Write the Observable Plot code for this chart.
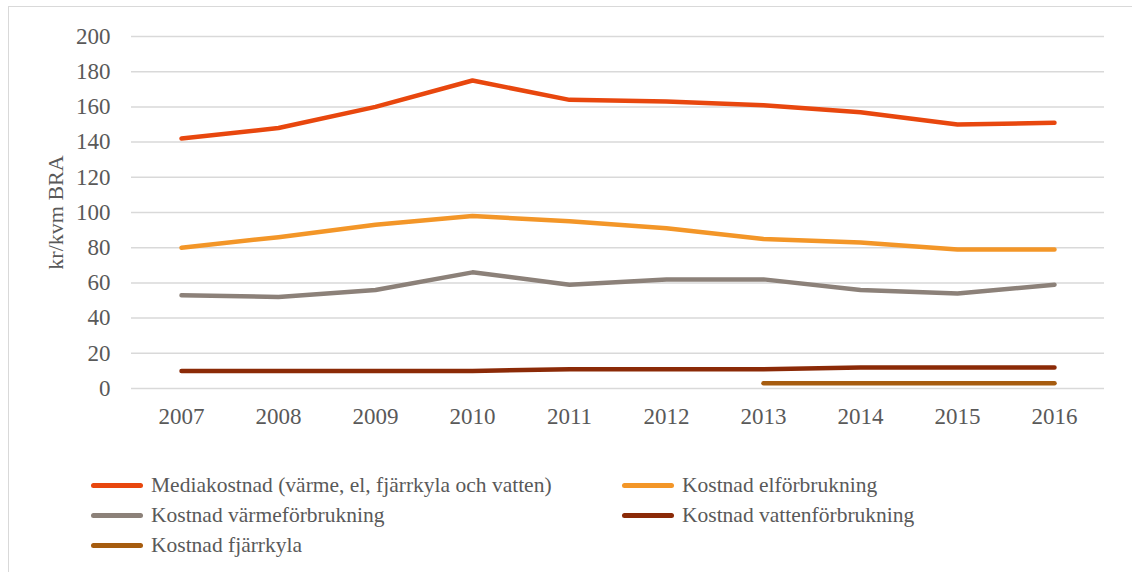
<!DOCTYPE html>
<html><head><meta charset="utf-8">
<script src="https://cdn.jsdelivr.net/npm/d3@7"></script>
<script src="https://cdn.jsdelivr.net/npm/@observablehq/plot@0.6"></script>
<style>
body{margin:0;background:#fff;font-family:"Liberation Serif","Times New Roman",serif;overflow:hidden;}
#frame{position:absolute;left:8px;top:6px;width:1200px;height:700px;border:1.5px solid #d9d9d9;}
#chart{position:absolute;left:0;top:0;}
.leg{position:absolute;display:flex;align-items:center;font-size:21.5px;color:#595959;white-space:nowrap;}
.sw{width:52px;height:5px;border-radius:3px;margin-right:8px;}
</style></head>
<body>
<div id="frame"></div>
<div id="chart"></div>
<div id="legend"></div>
<script>
const years = [2007,2008,2009,2010,2011,2012,2013,2014,2015,2016];
const seriesNames = ["Mediakostnad (värme, el, fjärrkyla och vatten)","Kostnad elförbrukning","Kostnad värmeförbrukning","Kostnad vattenförbrukning","Kostnad fjärrkyla"];
const median  = [142,148,160,175,164,163,161,157,150,151];
const elec    = [80,86,93,98,95,91,85,83,79,79];
const heat    = [53,52,56,66,59,62,62,56,54,59];
const water   = [10,10,10,10,11,11,11,12,12,12];
const cooling = [null,null,null,null,null,null,3,3,3,3];
const colors  = ["#E8470E","#F39628","#8C8179","#8B2A07","#A65C0F"];
const yTicks  = [0,20,40,60,80,100,120,140,160,180,200];
const yLabel  = "kr/kvm BRA";

const allSeries = [median, elec, heat, water, cooling];
const rows = [];
allSeries.forEach((vals, i) => years.forEach((yr, j) => {
  rows.push({year: String(yr), value: vals[j] == null ? NaN : vals[j], series: seriesNames[i]});
}));

const chart = Plot.plot({
  width: 1132, height: 440,
  marginLeft: 131, marginRight: 28, marginTop: 36, marginBottom: 52,
  style: {fontFamily: '"Liberation Serif","Times New Roman",serif', background: "transparent", color: "#595959"},
  x: {type: "point", domain: years.map(String), padding: 0.5},
  y: {domain: [0, 200]},
  color: {domain: seriesNames, range: colors},
  marks: [
    Plot.gridY(yTicks, {stroke: "#d9d9d9", strokeOpacity: 1, strokeWidth: 1.5}),
    Plot.axisY(yTicks, {tickSize: 0, tickPadding: 21, fontSize: 23, label: null, fill: "#595959"}),
    Plot.axisX({tickSize: 0, tickPadding: 19, fontSize: 23, label: null, fill: "#595959"}),
    Plot.text([yLabel], {frameAnchor: "left", textAnchor: "middle", dx: -76, rotate: -90, fontSize: 22, fill: "#595959"}),
    Plot.lineY(rows, {x: "year", y: "value", stroke: "series", z: "series", strokeWidth: 4.5, strokeLinecap: "round", strokeLinejoin: "round"})
  ]
});
document.getElementById("chart").appendChild(chart);

const legendPos = [[91,485],[622,485],[91,515],[622,515],[91,545]];
const leg = document.getElementById("legend");
seriesNames.forEach((name, i) => {
  const d = document.createElement("div");
  d.className = "leg";
  d.style.left = legendPos[i][0] + "px";
  d.style.top = (legendPos[i][1] - 13) + "px";
  d.style.height = "26px";
  d.innerHTML = `<span class="sw" style="background:${colors[i]}"></span><span>${name}</span>`;
  leg.appendChild(d);
});
</script>
</body></html>
